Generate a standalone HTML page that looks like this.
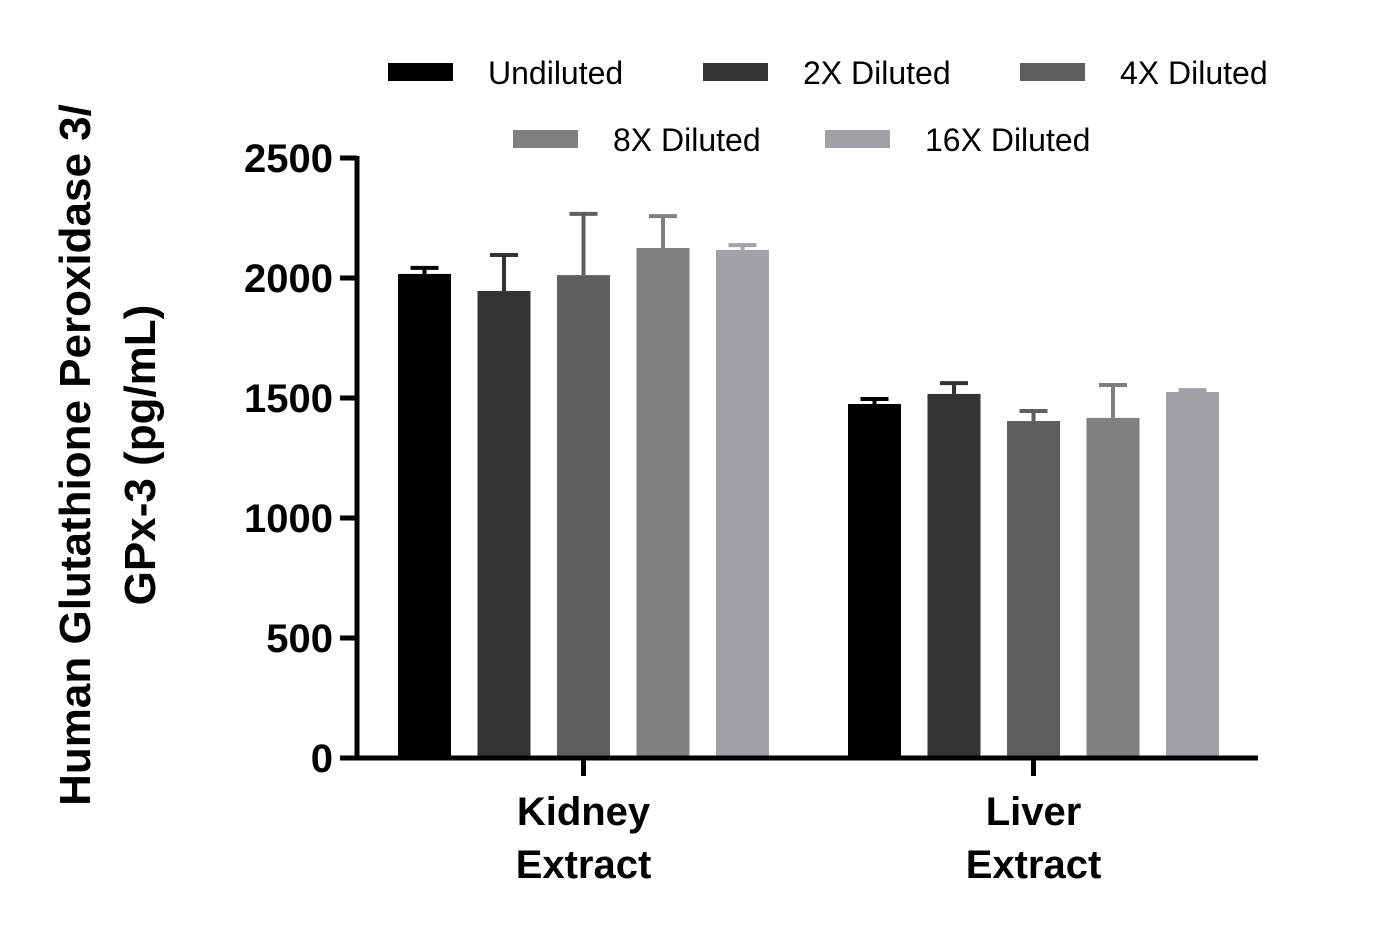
<!DOCTYPE html>
<html><head><meta charset="utf-8"><style>
body{margin:0;background:#fff;width:1396px;height:932px;overflow:hidden}
text{font-family:"Liberation Sans",sans-serif}
</style></head><body>
<svg id="chart" width="1396" height="932" xmlns="http://www.w3.org/2000/svg">
<g id="bars"></g>
<g id="axes"></g>
<g id="legend"></g>
<text transform="translate(90,455) rotate(-90)" text-anchor="middle" font-size="44" font-weight="bold">Human Glutathione Peroxidase 3/</text>
<text transform="translate(155,455) rotate(-90)" text-anchor="middle" font-size="44" font-weight="bold">GPx-3 (pg/mL)</text>
</svg>
<script>
const categories=[["Kidney","Extract"],["Liver","Extract"]];
const seriesNames=["Undiluted","2X Diluted","4X Diluted","8X Diluted","16X Diluted"];
const kidneyValues=[2017,1946,2012,2125,2117];
const kidneyErrors=[25,150,255,133,20];
const liverValues=[1475,1517,1404,1417,1525];
const liverErrors=[21,45,42,137,8];
const yTicks=[0,500,1000,1500,2000,2500];
const colors=["#000000","#333333","#5f5f5f","#808080","#a2a1a5"];
const NS="http://www.w3.org/2000/svg";
const y0=758,yTop=158,yMax=2500;
const y=v=>y0-(v/yMax)*(y0-yTop);
const groupStart=[398,848],step=79.5,bw=53;
function mk(tag,attrs,parent){const e=document.createElementNS(NS,tag);for(const k in attrs)e.setAttribute(k,attrs[k]);parent.appendChild(e);return e;}
const bars=document.getElementById('bars'),axes=document.getElementById('axes'),legend=document.getElementById('legend');
const vals=[kidneyValues,liverValues],errs=[kidneyErrors,liverErrors];
vals.forEach((arr,g)=>{arr.forEach((v,i)=>{
 const x=groupStart[g]+i*step;
 const r=mk('rect',{x:x,y:y(v),width:bw,height:y0-y(v),fill:colors[i]},bars);
 
 
 const cx=x+bw/2,te=y(v+errs[g][i]);
 const l=mk('line',{x1:cx,x2:cx,y1:y(v),y2:te,stroke:colors[i],'stroke-width':4},bars);
 
 
 const c=mk('line',{x1:cx-14,x2:cx+14,y1:te,y2:te,stroke:colors[i],'stroke-width':4},bars);
 
 
});});
mk('line',{x1:357,x2:357,y1:156,y2:760,stroke:'#000','stroke-width':5},axes);
mk('line',{x1:340,x2:1258,y1:758,y2:758,stroke:'#000','stroke-width':5},axes);
yTicks.forEach(t=>{
 mk('line',{x1:340,x2:357,y1:y(t),y2:y(t),stroke:'#000','stroke-width':5},axes);
 const tx=mk('text',{x:333,y:y(t)+14,'text-anchor':'end','font-size':40,'font-weight':'bold'},axes);
 tx.textContent=t;
 
 
});
categories.forEach((c,g)=>{
 const cx=groupStart[g]+2*step+bw/2;
 mk('line',{x1:cx,x2:cx,y1:758,y2:776,stroke:'#000','stroke-width':5},axes);
 c.forEach((s,j)=>{const t=mk('text',{x:cx,y:825+j*53,'text-anchor':'middle','font-size':40,'font-weight':'bold'},axes);t.textContent=s;
 
 });
});
const legPos=[[388,72],[703,72],[1020,72],[513,139],[825,139]];
seriesNames.forEach((n,i)=>{
 const [lx,ly]=legPos[i];
 const r=mk('rect',{x:lx,y:ly-9,width:65,height:18,fill:colors[i]},legend);
 
 
 const t=mk('text',{x:lx+100,y:ly+12,'font-size':32},legend);
 t.textContent=n;
 
 
});
</script>
</body></html>
